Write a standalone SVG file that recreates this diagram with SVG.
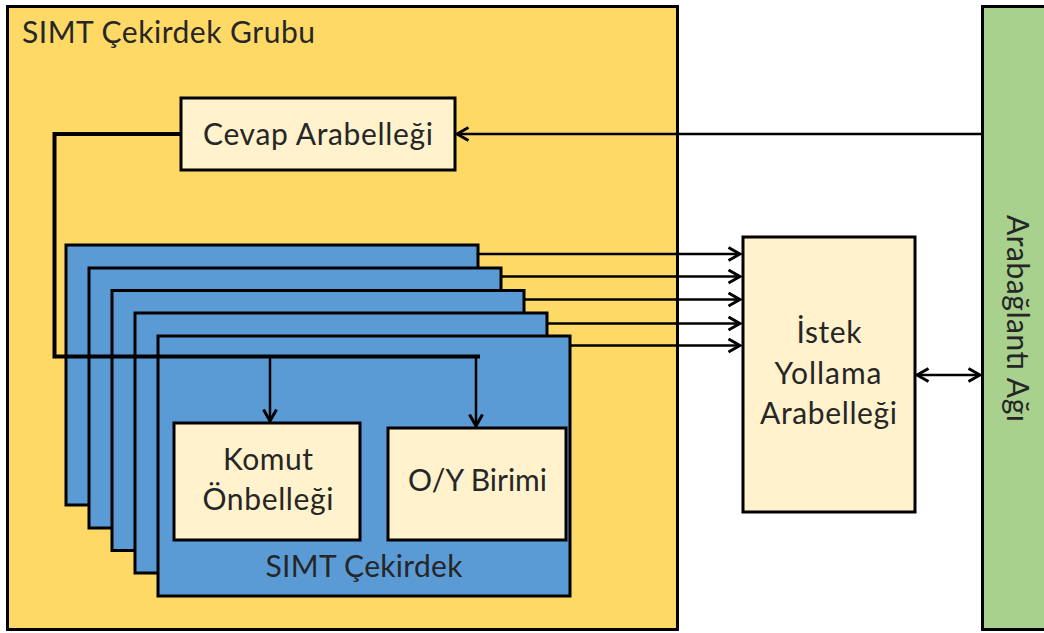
<svg xmlns="http://www.w3.org/2000/svg" width="1044" height="633" viewBox="0 0 1044 633">
<style>
.box{stroke:#000;stroke-width:3}
.grp{fill:#FFD966}
.lt{fill:#FFF2CC}
.core{fill:#5B9BD5}
.net{fill:#A9D18E}
.t{font-family:Lato,"Liberation Sans",sans-serif;font-size:30px;fill:#262626}
.m{text-anchor:middle}
.ln{fill:none;stroke:#000;stroke-width:2.5}
</style>
<defs>
<marker id="ah" viewBox="0 0 15 16" refX="13" refY="8" markerWidth="15" markerHeight="16" markerUnits="userSpaceOnUse" orient="auto-start-reverse">
<path d="M1.5,1.5 L13,8 L1.5,14.5" fill="none" stroke="#000" stroke-width="3"/>
</marker>
</defs>
<rect width="1044" height="633" fill="#fff"/>
<g id="group">
<rect class="box grp" x="7.5" y="6.5" width="670" height="623"/>
<text class="t" x="22" y="43" textLength="293">SIMT Çekirdek Grubu</text>
</g>
<g id="network">
<rect class="box net" x="982.5" y="6.5" width="80" height="623"/>
<text class="t m" transform="translate(1007,318.5) rotate(90)" textLength="207">Arabağlantı Ağı</text>
</g>
<g id="cevap">
<rect class="box lt" x="181" y="98" width="274" height="72"/>
<text class="t" x="203" y="145" textLength="230">Cevap Arabelleği</text>
</g>
<g id="istek">
<rect class="box lt" x="743" y="237" width="172" height="275"/>
<text class="t m" x="829" y="343" textLength="65">İstek</text>
<text class="t m" x="828" y="384" textLength="107">Yollama</text>
<text class="t m" x="828.5" y="424" textLength="137">Arabelleği</text>
</g>
<g id="core1"><rect class="box core" x="66" y="245" width="412" height="260"/></g>
<g id="core2"><rect class="box core" x="89" y="268" width="412" height="260"/></g>
<g id="core3"><rect class="box core" x="112" y="290.5" width="412" height="260"/></g>
<g id="core4"><rect class="box core" x="135" y="313" width="412" height="260"/></g>
<g id="core5">
<rect class="box core" x="158" y="336" width="412" height="260"/>
<text class="t m" x="364" y="577" textLength="197">SIMT Çekirdek</text>
</g>
<g id="connectors">
<path class="ln" d="M478,254 H740" marker-end="url(#ah)"/>
<path class="ln" d="M501,276.5 H740" marker-end="url(#ah)"/>
<path class="ln" d="M524,299.5 H740" marker-end="url(#ah)"/>
<path class="ln" d="M547,323.5 H740" marker-end="url(#ah)"/>
<path class="ln" d="M570,345.5 H740" marker-end="url(#ah)"/>
<path class="ln" d="M981,134 H457" marker-end="url(#ah)"/>
<path class="ln" d="M917,375 H980" marker-start="url(#ah)" marker-end="url(#ah)"/>
<path d="M181,134 H54.5 V356.5 H480" fill="none" stroke="#000" stroke-width="4"/>
<path class="ln" d="M270,356 V421" marker-end="url(#ah)"/>
<path class="ln" d="M476,356 V426" marker-end="url(#ah)"/>
</g>
<g id="komut">
<rect class="box lt" x="174" y="423" width="186" height="117"/>
<text class="t m" x="268" y="470" textLength="90">Komut</text>
<text class="t m" x="268" y="510" textLength="131">Önbelleği</text>
</g>
<g id="oy">
<rect class="box lt" x="388" y="428" width="178" height="112"/>
<text class="t m" x="477.5" y="491" textLength="139">O/Y Birimi</text>
</g>
</svg>
